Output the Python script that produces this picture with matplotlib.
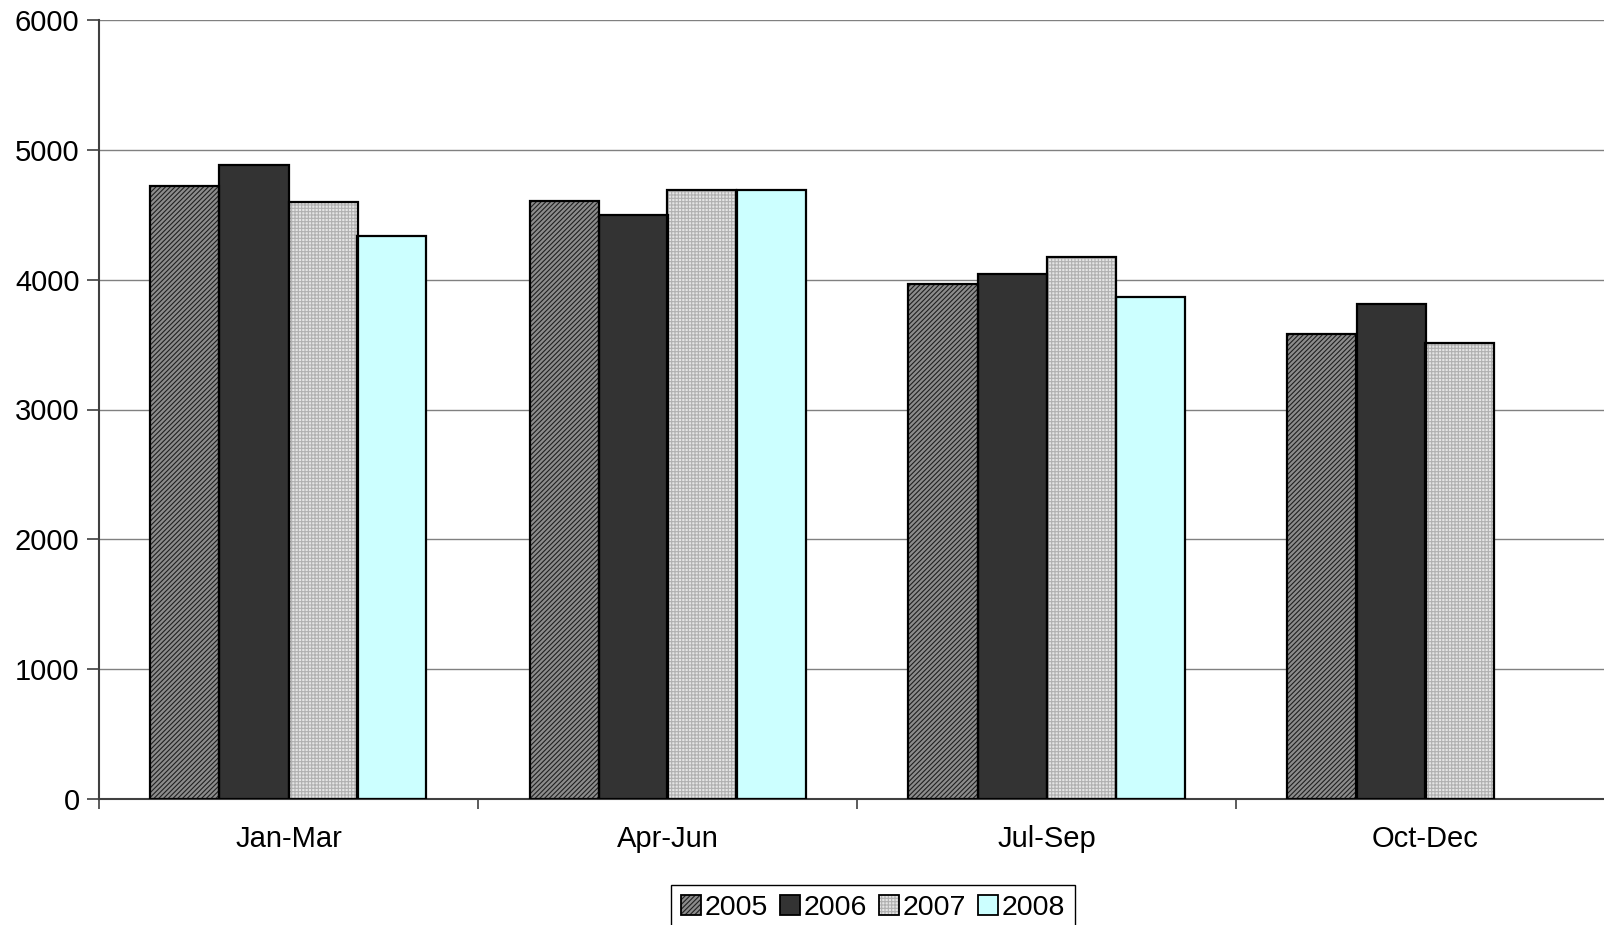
import numpy as np
import matplotlib
matplotlib.use('Agg')
import matplotlib.pyplot as plt
from matplotlib.patches import Patch

# values
quarters = ['Jan-Mar', 'Apr-Jun', 'Jul-Sep', 'Oct-Dec']
years = ['2005', '2006', '2007', '2008']
v2005 = [4725, 4605, 3970, 3585]
v2006 = [4880, 4500, 4045, 3810]
v2007 = [4595, 4690, 4175, 3515]
v2008 = [4340, 4690, 3870, np.nan]
y_ticks = [0, 1000, 2000, 3000, 4000, 5000, 6000]

plt.rcParams['font.family'] = ['Liberation Sans', 'DejaVu Sans']
plt.rcParams['hatch.linewidth'] = 0.8

# face, hatch, hatch colour per year
styles = [
    ('#8c8c8c', '///////', '#202020'),
    ('#333333', None, '#333333'),
    ('#e4e4e4', '+++++', '#b0b0b0'),
    ('#ccffff', None, '#ccffff'),
]

fig = plt.figure(figsize=(16.04, 9.25), dpi=100)
ax = fig.add_axes([99 / 1604, 1 - 799 / 925, 1516 / 1604, (799 - 20) / 925])

series = [v2005, v2006, v2007, v2008]
x = np.arange(len(quarters)) + 0.5
width = 69 / 379
handles = []
for i, vals in enumerate(series):
    face, hatch, hcol = styles[i]
    pos = x + (i - 1.5) * width
    ax.bar(pos, vals, width, color=face, hatch=hatch, edgecolor=hcol,
           linewidth=0, zorder=2)
    ax.bar(pos, vals, width, fill=False, edgecolor='black', linewidth=1.6,
           zorder=3)
    fill = Patch(facecolor=face, hatch=hatch, edgecolor=hcol, linewidth=0)
    edge = Patch(fill=False, edgecolor='black', linewidth=1.3)
    handles.append((fill, edge))

ax.set_xlim(0, 4)
ax.set_ylim(0, 6000)
ax.set_yticks(y_ticks)
ax.set_yticklabels([str(t) for t in y_ticks])
ax.yaxis.grid(True, color='#808080', linewidth=1.0, zorder=0)
ax.set_axisbelow(True)

ax.set_xticks([0, 1, 2, 3, 4])
ax.set_xticklabels([])
ax.set_xticks(x, minor=True)
ax.set_xticklabels(quarters, minor=True)
ax.tick_params(axis='x', which='major', direction='out', length=7,
               color='#404040', width=1.2)
ax.tick_params(axis='x', which='minor', length=0, pad=19, labelsize=21)
ax.tick_params(axis='y', direction='out', length=9, color='#404040',
               width=1.2, pad=5, labelsize=21)

for side in ['top', 'right']:
    ax.spines[side].set_visible(False)
ax.spines['left'].set_color('#404040')
ax.spines['left'].set_linewidth(1.5)
ax.spines['bottom'].set_color('#404040')
ax.spines['bottom'].set_linewidth(1.5)

fig.legend(handles=handles, labels=years, loc='upper center',
           bbox_to_anchor=(873 / 1604, 1 - 885 / 925),
           ncol=4, fontsize=20.5, frameon=True, fancybox=False, edgecolor='black',
           framealpha=1, handlelength=0.7, handleheight=0.7, handletextpad=0.15,
           columnspacing=0.4, borderpad=0.35, borderaxespad=0)

fig.savefig('out.png', dpi=100)
